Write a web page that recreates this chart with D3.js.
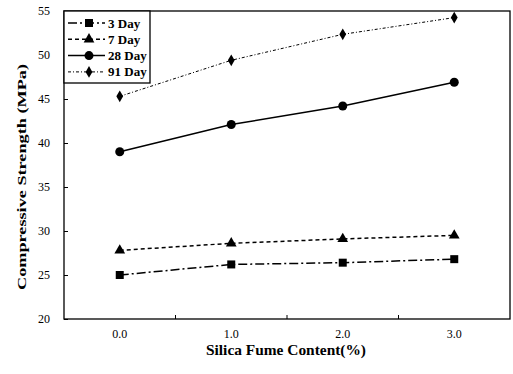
<!DOCTYPE html>
<html><head><meta charset="utf-8">
<script src="https://cdn.jsdelivr.net/npm/d3@7"></script>
<style>body{margin:0;background:#fff}svg{display:block}</style>
</head><body>
<svg id="c" width="513" height="374" font-family="Liberation Serif"></svg>
<script>
const categories = ["0.0","1.0","2.0","3.0"];
const day3  = [25.0, 26.2, 26.4, 26.8];
const day7  = [27.8, 28.6, 29.1, 29.5];
const day28 = [39.0, 42.1, 44.2, 46.9];
const day91 = [45.3, 49.4, 52.35, 54.25];
const yTicks = [20,25,30,35,40,45,50,55];
const seriesNames = ["3 Day","7 Day","28 Day","91 Day"];

const FONT = "Liberation Serif";
const series = [
  {name: seriesNames[0], values: day3,  dash: "9,3,2,3", width: 1.5, sym: d3.symbolSquare, size: 64},
  {name: seriesNames[1], values: day7,  dash: "4,3", width: 1.5, sym: d3.symbolTriangle, size: 50},
  {name: seriesNames[2], values: day28, dash: null, width: 1.5, sym: d3.symbolCircle, size: 64},
  {name: seriesNames[3], values: day91, dash: "3,2,1,2", width: 1, sym: d3.symbolDiamond, size: 40}
];

const svg = d3.select("#c");
const L = 64, R = 510, T = 11, B = 319;
const x = d3.scaleBand().domain(categories).range([L, R]);
const y = d3.scaleLinear().domain([20, 55]).range([B, T]);

svg.append("rect").attr("x", L).attr("y", T).attr("width", R - L).attr("height", B - T)
  .attr("fill", "none").attr("stroke", "#000").attr("stroke-width", 1.3);

const ya = svg.append("g").attr("transform", `translate(${L},0)`)
  .call(d3.axisLeft(y).tickValues(yTicks).tickSizeInner(-4).tickSizeOuter(0).tickPadding(14));
ya.attr("font-family", FONT).attr("font-size", 12);
ya.select(".domain").remove();
ya.selectAll("line").attr("stroke", "#000");
ya.selectAll("text").attr("fill", "#000").attr("font-family", FONT).attr("font-size", 12);

const bounds = categories.slice(1).map(c => x(c));
svg.append("g").selectAll("line").data(bounds).join("line")
  .attr("x1", d => d).attr("x2", d => d).attr("y1", B).attr("y2", B - 4).attr("stroke", "#000");
svg.append("g").selectAll("text").data(categories).join("text")
  .attr("x", d => x(d) + x.bandwidth() / 2).attr("y", 338).attr("text-anchor", "middle")
  .attr("font-family", FONT).attr("font-size", 12).text(d => d);

svg.append("text").attr("x", 286).attr("y", 355).attr("text-anchor", "middle")
  .attr("font-family", FONT).attr("font-size", 14).attr("font-weight", "bold")
  .attr("textLength", 160).attr("lengthAdjust", "spacingAndGlyphs")
  .text("Silica Fume Content(%)");
svg.append("text").attr("transform", `translate(26,177) rotate(-90)`).attr("text-anchor", "middle")
  .attr("font-family", FONT).attr("font-size", 13).attr("font-weight", "bold")
  .attr("textLength", 226).attr("lengthAdjust", "spacingAndGlyphs")
  .text("Compressive Strength (MPa)");

const line = d3.line().x((d, i) => x(categories[i]) + x.bandwidth() / 2).y(d => y(d));
series.forEach(s => {
  svg.append("path").datum(s.values).attr("d", line).attr("fill", "none")
    .attr("stroke", "#000").attr("stroke-width", s.width).attr("stroke-dasharray", s.dash);
  svg.append("g").selectAll("path").data(s.values).join("path")
    .attr("d", d3.symbol().type(s.sym).size(s.size))
    .attr("transform", (d, i) => `translate(${x(categories[i]) + x.bandwidth() / 2},${y(d)})`)
    .attr("fill", "#000");
});

const lg = svg.append("g");
lg.append("rect").attr("x", L).attr("y", T).attr("width", 86).attr("height", 72)
  .attr("fill", "#fff").attr("stroke", "#000").attr("stroke-width", 1.3);
series.forEach((s, i) => {
  const yy = 23 + i * 16.3;
  lg.append("line").attr("x1", 68).attr("x2", 105).attr("y1", yy).attr("y2", yy)
    .attr("stroke", "#000").attr("stroke-width", s.width).attr("stroke-dasharray", s.dash);
  lg.append("path").attr("d", d3.symbol().type(s.sym).size(s.size)).attr("transform", `translate(89,${yy})`).attr("fill", "#000");
  lg.append("text").attr("x", 108).attr("y", yy + 4.5)
    .attr("font-family", FONT).attr("font-size", 13).attr("font-weight", "bold").text(s.name);
});
</script></body></html>
